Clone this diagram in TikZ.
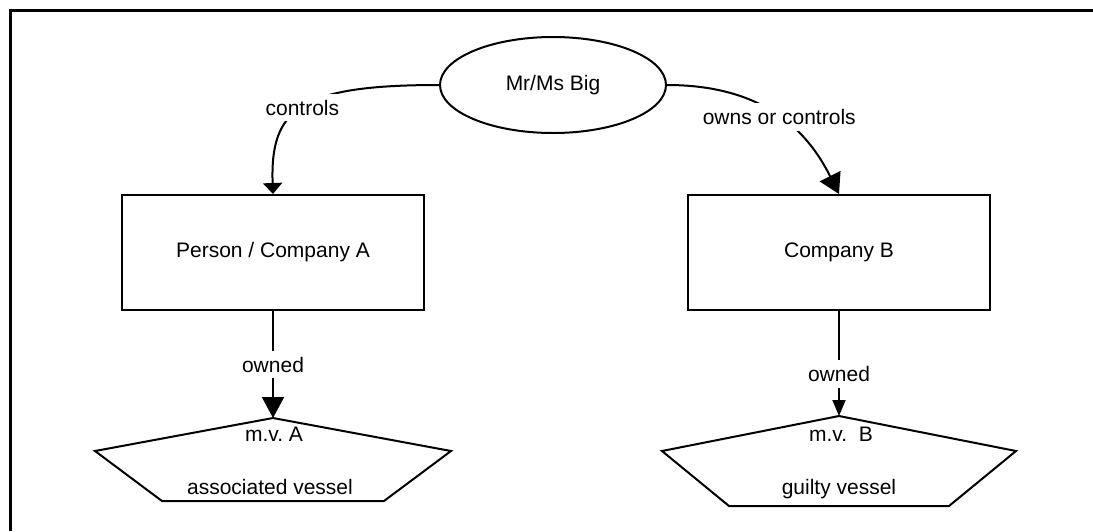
\documentclass[tikz,border=0pt]{standalone}
\usepackage{fontspec}
\setmainfont{Liberation Sans}
\usetikzlibrary{arrows.meta,shapes.geometric}

\tikzset{
  box/.style={draw,minimum width=302pt,minimum height=115pt,inner sep=0pt},
  lbl/.style={fill=white,inner sep=6pt},
  arrowtip/.style 2 args={-{Triangle[width=#1,length=#2]}},
}

\begin{document}
\frenchspacing
\begin{tikzpicture}[x=1pt,y=-1pt,line width=2pt,font=\fontsize{21}{25}\selectfont]
  \useasboundingbox (0,0) rectangle (1093,531);
  \draw[line width=2.4pt] (10.5,531) -- (10.5,10.5) -- (1093,10.5);

  \node[draw,ellipse,minimum width=226pt,minimum height=96pt,inner sep=0pt] (big) at (553,85) {Mr/Ms Big};
  \node[box] (persA) at (273,252.5) {Person / Company A};
  \node[box] (compB) at (839,252.5) {Company B};

  % vessels
  \coordinate (vesA) at (273,418);
  \draw (vesA) -- ++(178,33) -- ++(-67,50) -- ++(-222,0) -- ++(-67,-50) -- cycle;
  \node[anchor=base] (mvA) at (274,441) {m.v. A};
  \node[anchor=base] (typA) at (270,494) {associated vessel};
  \coordinate (vesB) at (839,416);
  \draw (vesB) -- ++(177,35) -- ++(-67,55) -- ++(-220,0) -- ++(-67,-55) -- cycle;
  \node[anchor=base] (mvB) at (841,441) {m.v.\ \ B};
  \node[anchor=base] (typB) at (839,494) {guilty vessel};

  \draw[arrowtip={19pt}{11pt}] (big.west) .. controls +(-140,0) and +(-3,-85) .. (persA.north) node[lbl,pos=0.5] {controls};
  \draw[arrowtip={23pt}{20pt}] (big.east) .. controls +(100,0) and +(-30,-60) .. (compB.north) node[lbl,pos=0.5] {owns or controls};
  \draw[arrowtip={22pt}{21pt}] (persA) -- (vesA) node[lbl,midway] {owned};
  \draw[arrowtip={13pt}{16pt}] (compB) -- (vesB) node[lbl,pos=0.6] {owned};
\end{tikzpicture}
\end{document}
